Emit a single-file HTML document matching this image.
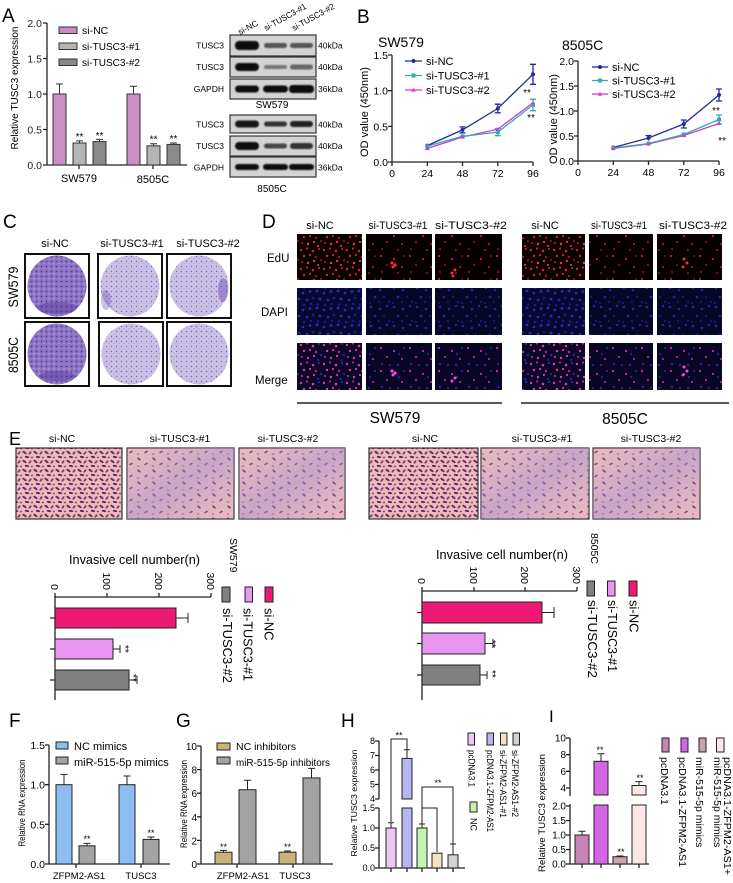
<!DOCTYPE html>
<html><head><meta charset="utf-8"><style>
html,body{margin:0;padding:0;background:#fff;}
svg{display:block;font-family:"Liberation Sans",Arial,sans-serif;}
</style></head><body>
<svg width="733" height="883" viewBox="0 0 733 883" xmlns="http://www.w3.org/2000/svg">
<defs>
<filter id="bl" x="-30%" y="-80%" width="160%" height="260%"><feGaussianBlur stdDeviation="0.9"/></filter>
<pattern id="eduA" width="23" height="19" patternUnits="userSpaceOnUse"><rect width="23" height="19" fill="#0a0101"/>
<g fill="#d82222"><circle cx="2" cy="3" r="1.2"/><circle cx="8" cy="1.5" r="1.1"/><circle cx="14" cy="4" r="1.3"/><circle cx="20" cy="2" r="1"/><circle cx="5" cy="9" r="1.2"/><circle cx="11" cy="8" r="1.1"/></g>
<g fill="#a81616"><circle cx="17" cy="10" r="1.2"/><circle cx="22" cy="13" r="1"/><circle cx="3" cy="15" r="1.1"/></g>
<g fill="#ff3a3a"><circle cx="9" cy="16" r="1.2"/><circle cx="15" cy="14" r="1.1"/><circle cx="19" cy="18" r="1"/></g></pattern>
<pattern id="eduB" width="29" height="23" patternUnits="userSpaceOnUse"><rect width="29" height="23" fill="#070000"/>
<g fill="#d02020"><circle cx="4" cy="3" r="1.1"/><circle cx="17" cy="6" r="1.1"/><circle cx="25" cy="14" r="1"/></g>
<g fill="#a01414"><circle cx="10" cy="12" r="1"/><circle cx="21" cy="20" r="1"/><circle cx="5" cy="19" r="1"/><circle cx="27" cy="3" r="0.9"/></g></pattern>
<pattern id="dapi" width="21" height="17" patternUnits="userSpaceOnUse"><rect width="21" height="17" fill="#080830"/>
<g fill="#2a2ab8"><circle cx="2" cy="2" r="1.4"/><circle cx="9" cy="4" r="1.3"/><circle cx="16" cy="2.5" r="1.4"/><circle cx="5" cy="10" r="1.4"/><circle cx="13" cy="11" r="1.3"/></g>
<g fill="#1c1c8c"><circle cx="19" cy="9" r="1.3"/><circle cx="3" cy="15.5" r="1.2"/><circle cx="10" cy="16" r="1.3"/><circle cx="17" cy="15" r="1.2"/></g></pattern>
<pattern id="dapiB" width="23" height="19" patternUnits="userSpaceOnUse"><rect width="23" height="19" fill="#070728"/>
<g fill="#2424a6"><circle cx="3" cy="3" r="1.3"/><circle cx="12" cy="5" r="1.3"/><circle cx="19" cy="2" r="1.2"/><circle cx="7" cy="12" r="1.3"/></g>
<g fill="#18187c"><circle cx="16" cy="12" r="1.2"/><circle cx="21" cy="17" r="1.2"/><circle cx="2" cy="18" r="1.1"/><circle cx="11" cy="17" r="1.2"/></g></pattern>
<pattern id="mrgA" width="23" height="19" patternUnits="userSpaceOnUse"><rect width="23" height="19" fill="#0c0628"/>
<g fill="#e03aae"><circle cx="2" cy="3" r="1.2"/><circle cx="14" cy="4" r="1.3"/><circle cx="5" cy="9" r="1.2"/><circle cx="11" cy="8" r="1.1"/><circle cx="9" cy="16" r="1.2"/><circle cx="15" cy="14" r="1.1"/></g>
<g fill="#b02a8c"><circle cx="8" cy="1.5" r="1.1"/><circle cx="17" cy="10" r="1.2"/><circle cx="3" cy="15" r="1.1"/></g>
<g fill="#2828a8"><circle cx="20" cy="2" r="1.2"/><circle cx="22" cy="13" r="1.2"/><circle cx="19" cy="18" r="1.1"/></g></pattern>
<pattern id="mrgB" width="29" height="23" patternUnits="userSpaceOnUse"><rect width="29" height="23" fill="#0a0626"/>
<g fill="#c8309c"><circle cx="4" cy="3" r="1.1"/><circle cx="17" cy="6" r="1.1"/><circle cx="25" cy="14" r="1"/><circle cx="10" cy="12" r="1"/></g>
<g fill="#2424a0"><circle cx="21" cy="20" r="1.2"/><circle cx="5" cy="19" r="1.2"/><circle cx="27" cy="3" r="1.1"/><circle cx="13" cy="20" r="1.1"/><circle cx="22" cy="9" r="1.1"/></g></pattern>
<pattern id="colD" width="5" height="5" patternUnits="userSpaceOnUse"><rect width="5" height="5" fill="#8c76c4"/><circle cx="1.5" cy="1.5" r="0.9" fill="#57389a"/><circle cx="4" cy="3.7" r="0.7" fill="#b4a4da"/></pattern>
<pattern id="colL" width="5" height="5" patternUnits="userSpaceOnUse"><rect width="5" height="5" fill="#cbc1e5"/><circle cx="1.5" cy="1.5" r="0.7" fill="#7c62b6"/><circle cx="4" cy="3.8" r="0.5" fill="#9a86c8"/></pattern>
<pattern id="invA" width="11" height="9" patternUnits="userSpaceOnUse"><rect width="11" height="9" fill="#eebbb5"/><ellipse cx="2.5" cy="2.5" rx="2.4" ry="1.1" transform="rotate(35 2.5 2.5)" fill="#6b2a7a"/><ellipse cx="8" cy="3" rx="2" ry="1" transform="rotate(-50 8 3)" fill="#7c3a8a"/><ellipse cx="5" cy="7" rx="2.2" ry="1" transform="rotate(10 5 7)" fill="#5f2470"/><ellipse cx="10" cy="7.5" rx="1.3" ry="0.9" fill="#8a4796"/></pattern>
<pattern id="invB" width="15" height="12" patternUnits="userSpaceOnUse"><rect width="15" height="12" fill="#efc0ba"/><ellipse cx="4" cy="3" rx="2.2" ry="1" transform="rotate(40 4 3)" fill="#6e2c7c"/><ellipse cx="11" cy="8" rx="2" ry="0.9" transform="rotate(-30 11 8)" fill="#7a3888"/><ellipse cx="3" cy="10" rx="1.4" ry="0.8" fill="#a868a8"/></pattern>
<linearGradient id="lav" x1="0" y1="0" x2="1" y2="1"><stop offset="0" stop-color="#b598d0" stop-opacity="0.1"/><stop offset="0.5" stop-color="#a890d0" stop-opacity="0.55"/><stop offset="1" stop-color="#b598d0" stop-opacity="0.1"/></linearGradient>
</defs>

<!-- ============ A chart ============ -->
<text x="2" y="22" font-size="19">A</text>
<path d="M47 23V165H187M43 23H47M43 58.5H47M43 94H47M43 129.5H47M43 165H47M79 165V169M153 165V169" stroke="#222" stroke-width="1.3" fill="none"/>
<g font-size="10.5" text-anchor="end" fill="#222"><text x="42" y="27">2.0</text><text x="42" y="62.5">1.5</text><text x="42" y="98">1.0</text><text x="42" y="133.5">0.5</text><text x="42" y="169">0.0</text></g>
<text transform="translate(18,88) rotate(-90)" text-anchor="middle" font-size="10" textLength="123" lengthAdjust="spacingAndGlyphs">Relative TUSC3 expression</text>
<g stroke="#333" stroke-width="1">
<rect x="53" y="94" width="13" height="71" fill="#c98fc4"/>
<rect x="73" y="143" width="13" height="22" fill="#b5b5b5"/>
<rect x="93" y="141.6" width="13" height="23.4" fill="#8a8a8a"/>
<rect x="127" y="94" width="13" height="71" fill="#c98fc4"/>
<rect x="147" y="145.8" width="13" height="19.2" fill="#b5b5b5"/>
<rect x="167" y="144.4" width="13" height="20.6" fill="#8a8a8a"/>
<path d="M59.5 94V84M56 84H63M79.5 143V140.9M76 140.9H83M99.5 141.6V139.4M96 139.4H103M133.5 94V86.2M130 86.2H137M153.5 145.8V143.7M150 143.7H157M173.5 144.4V143M170 143H177" fill="none"/>
</g>
<g font-size="10" text-anchor="middle"><text x="79.5" y="140">**</text><text x="99.5" y="139">**</text><text x="153.5" y="142.5">**</text><text x="173.5" y="142">**</text></g>
<g font-size="11" text-anchor="middle"><text x="79" y="182">SW579</text><text x="153" y="183">8505C</text></g>
<g stroke="#333" stroke-width="1"><rect x="59" y="27" width="18" height="6.5" fill="#c98fc4"/><rect x="59" y="43" width="18" height="6.5" fill="#b5b5b5"/><rect x="59" y="59" width="18" height="6.5" fill="#8a8a8a"/></g>
<g font-size="10.5"><text x="82" y="34">si-NC</text><text x="82" y="50" textLength="58" lengthAdjust="spacingAndGlyphs">si-TUSC3-#1</text><text x="82" y="66" textLength="58" lengthAdjust="spacingAndGlyphs">si-TUSC3-#2</text></g>

<!-- ============ Western blots ============ -->
<g font-size="8.5"><text transform="translate(240,35) rotate(-28)">si-NC</text><text transform="translate(266,31) rotate(-29)" textLength="47" lengthAdjust="spacingAndGlyphs">si-TUSC3-#1</text><text transform="translate(294,31) rotate(-29)" textLength="47" lengthAdjust="spacingAndGlyphs">si-TUSC3-#2</text></g>
<g fill="#d3d3d3" stroke="#333" stroke-width="1.2">
<rect x="230" y="35" width="86" height="21"/><rect x="230" y="57" width="86" height="20"/><rect x="230" y="79" width="86" height="20"/>
<rect x="230" y="115" width="86" height="18"/><rect x="230" y="136" width="86" height="20"/><rect x="230" y="157" width="86" height="20"/>
</g>
<g filter="url(#bl)">
<rect x="235" y="41" width="24" height="9" rx="4" fill="#111"/><rect x="264" y="43" width="23" height="5" rx="2.5" fill="#555"/><rect x="290" y="43" width="23" height="5" rx="2.5" fill="#555"/>
<rect x="235" y="63" width="24" height="8" rx="4" fill="#111"/><rect x="264" y="65" width="23" height="4" rx="2" fill="#777"/><rect x="290" y="64.5" width="23" height="5" rx="2.5" fill="#666"/>
<rect x="235" y="85.5" width="24" height="7" rx="3.5" fill="#111"/><rect x="263" y="85.5" width="25" height="7" rx="3.5" fill="#111"/><rect x="289" y="85" width="25" height="8" rx="3.5" fill="#111"/>
<rect x="235" y="120.5" width="24" height="7" rx="3.5" fill="#151515"/><rect x="264" y="121.5" width="23" height="5" rx="2.5" fill="#333"/><rect x="290" y="121" width="23" height="6" rx="3" fill="#222"/>
<rect x="235" y="142" width="24" height="8" rx="4" fill="#111"/><rect x="264" y="143.5" width="23" height="5" rx="2.5" fill="#444"/><rect x="290" y="143" width="23" height="6" rx="3" fill="#333"/>
<rect x="235" y="164" width="24" height="6" rx="3" fill="#111"/><rect x="263" y="164" width="25" height="6" rx="3" fill="#111"/><rect x="289" y="164" width="25" height="6" rx="3" fill="#111"/>
</g>
<g font-size="8.5" text-anchor="end"><text x="224" y="48.5">TUSC3</text><text x="224" y="70">TUSC3</text><text x="224" y="92">GAPDH</text><text x="224" y="127.5">TUSC3</text><text x="224" y="149">TUSC3</text><text x="224" y="170.5">GAPDH</text></g>
<g font-size="8.5"><text x="318" y="48.5">40kDa</text><text x="318" y="70">40kDa</text><text x="318" y="92">36kDa</text><text x="318" y="127.5">40kDa</text><text x="318" y="149">40kDa</text><text x="318" y="170.5">36kDa</text></g>
<g font-size="10" text-anchor="middle"><text x="272" y="108">SW579</text><text x="272" y="192">8505C</text></g>

<!-- ============ B charts ============ -->
<text x="357" y="23" font-size="19">B</text>
<text x="378" y="47" font-size="14">SW579</text>
<text x="562" y="50" font-size="14">8505C</text>
<text transform="translate(368,112) rotate(-90)" text-anchor="middle" font-size="11">OD value (450nm)</text>
<text transform="translate(557,119) rotate(-90)" text-anchor="middle" font-size="11">OD value (450nm)</text>
<path d="M392 55V162H533M388 55H392M388 90.7H392M388 126.4H392M388 162H392M392 162V166M427.3 162V166M462.5 162V166M497.8 162V166M533 162V166" stroke="#222" stroke-width="1.3" fill="none"/>
<path d="M578 61V161H719M574 61H578M574 86H578M574 111H578M574 136H578M574 161H578M578 161V165M613.3 161V165M648.5 161V165M683.8 161V165M719 161V165" stroke="#222" stroke-width="1.3" fill="none"/>
<g font-size="10.5" text-anchor="end"><text x="388" y="59">1.5</text><text x="388" y="94.7">1.0</text><text x="388" y="130.4">0.5</text><text x="388" y="166">0.0</text>
<text x="574" y="65">2.0</text><text x="574" y="90">1.5</text><text x="574" y="115">1.0</text><text x="574" y="140">0.5</text><text x="574" y="165">0.0</text></g>
<g font-size="10.5" text-anchor="middle"><text x="392" y="177">0</text><text x="427.3" y="177">24</text><text x="462.5" y="177">48</text><text x="497.8" y="177">72</text><text x="533" y="177">96</text>
<text x="578" y="176">0</text><text x="613.3" y="176">24</text><text x="648.5" y="176">48</text><text x="683.8" y="176">72</text><text x="719" y="176">96</text></g>
<g fill="none" stroke-width="1.3">
<polyline points="427.3,148.5 462.5,137 497.8,129.2 533,102.8" stroke="#d03cd0"/>
<polyline points="427.3,146.3 462.5,136.3 497.8,132.1 533,105" stroke="#35aab0"/>
<polyline points="427.3,145.6 462.5,129.9 497.8,108.5 533,74.3" stroke="#232a9e"/>
<path d="M462.5 126.9V132.9M459.5 126.9H465.5M459.5 132.9H465.5M497.8 104.2V112.8M494.8 104.2H500.8M494.8 112.8H500.8M533 64.3V84.3M530 64.3H536M530 84.3H536" stroke="#232a9e"/>
<path d="M533 99.3V110.7M530 99.3H536M530 110.7H536M497.8 128.5V135.7M494.8 128.5H500.8M494.8 135.7H500.8" stroke="#35aab0"/>
<polyline points="613.3,148.5 648.5,144 683.8,135.5 719,123.5" stroke="#d03cd0"/>
<polyline points="613.3,148 648.5,143.5 683.8,134.5 719,119.5" stroke="#35aab0"/>
<polyline points="613.3,147.5 648.5,138 683.8,124 719,95" stroke="#232a9e"/>
<path d="M648.5 135.5V140.5M645.5 135.5H651.5M683.8 120V128M680.8 120H686.8M680.8 128H686.8M719 89V101M716 89H722M716 101H722" stroke="#232a9e"/>
<path d="M719 115V124M716 115H722M716 124H722" stroke="#35aab0"/>
</g>
<g fill="#232a9e"><circle cx="427.3" cy="145.6" r="2"/><circle cx="462.5" cy="129.9" r="2"/><circle cx="497.8" cy="108.5" r="2"/><circle cx="533" cy="74.3" r="2"/>
<circle cx="613.3" cy="147.5" r="2"/><circle cx="648.5" cy="138" r="2"/><circle cx="683.8" cy="124" r="2"/><circle cx="719" cy="95" r="2"/></g>
<g fill="#35aab0"><rect x="425.3" y="144.3" width="4" height="4"/><rect x="460.5" y="134.3" width="4" height="4"/><rect x="495.8" y="130.1" width="4" height="4"/><rect x="531" y="103" width="4" height="4"/>
<rect x="611.3" y="146" width="4" height="4"/><rect x="646.5" y="141.5" width="4" height="4"/><rect x="681.8" y="132.5" width="4" height="4"/><rect x="717" y="117.5" width="4" height="4"/></g>
<g fill="#d03cd0"><path d="M427.3 146.3l2.3 3.8h-4.6zM462.5 134.8l2.3 3.8h-4.6zM497.8 127l2.3 3.8h-4.6zM533 100.6l2.3 3.8h-4.6zM613.3 146.3l2.3 3.8h-4.6zM648.5 141.8l2.3 3.8h-4.6zM683.8 133.3l2.3 3.8h-4.6zM719 121.3l2.3 3.8h-4.6z"/></g>
<g font-size="10" text-anchor="middle"><text x="527" y="96">**</text><text x="531" y="121">**</text><text x="716" y="114">**</text><text x="722" y="144">**</text></g>
<g stroke-width="1.3"><line x1="405" y1="61" x2="422" y2="61" stroke="#232a9e"/><line x1="405" y1="75.5" x2="422" y2="75.5" stroke="#35aab0"/><line x1="405" y1="90" x2="422" y2="90" stroke="#d03cd0"/>
<line x1="592" y1="67" x2="608" y2="67" stroke="#232a9e"/><line x1="592" y1="80.5" x2="608" y2="80.5" stroke="#35aab0"/><line x1="592" y1="94" x2="608" y2="94" stroke="#d03cd0"/></g>
<circle cx="413.5" cy="61" r="2" fill="#232a9e"/><rect x="411.5" y="73.5" width="4" height="4" fill="#35aab0"/><path d="M413.5 87.8l2.3 3.8h-4.6z" fill="#d03cd0"/>
<circle cx="600" cy="67" r="2" fill="#232a9e"/><rect x="598" y="78.5" width="4" height="4" fill="#35aab0"/><path d="M600 91.8l2.3 3.8h-4.6z" fill="#d03cd0"/>
<g font-size="11"><text x="426" y="65">si-NC</text><text x="426" y="79.5">si-TUSC3-#1</text><text x="426" y="94">si-TUSC3-#2</text>
<text x="612" y="71">si-NC</text><text x="612" y="84.5">si-TUSC3-#1</text><text x="612" y="98">si-TUSC3-#2</text></g>

<!-- ============ C ============ -->
<text x="3" y="228" font-size="19">C</text>
<g font-size="11" text-anchor="middle"><text x="55" y="247">si-NC</text><text x="132" y="247">si-TUSC3-#1</text><text x="208" y="247">si-TUSC3-#2</text></g>
<text transform="translate(18,287) rotate(-90)" text-anchor="middle" font-size="14" textLength="41" lengthAdjust="spacingAndGlyphs">SW579</text>
<text transform="translate(18,355) rotate(-90)" text-anchor="middle" font-size="14" textLength="36" lengthAdjust="spacingAndGlyphs">8505C</text>
<g fill="#fff" stroke="#111" stroke-width="2">
<rect x="25" y="254" width="64" height="64"/><rect x="98" y="254" width="64" height="64"/><rect x="167" y="254" width="64" height="64"/>
<rect x="25" y="322" width="64" height="64"/><rect x="99" y="322" width="64" height="64"/><rect x="167" y="322" width="64" height="64"/>
</g>
<ellipse cx="57" cy="286" rx="29.5" ry="30.5" fill="url(#colD)"/>
<ellipse cx="130" cy="286" rx="29.5" ry="30.5" fill="url(#colL)"/>
<ellipse cx="199" cy="286" rx="29.5" ry="30.5" fill="url(#colL)"/>
<ellipse cx="57" cy="354" rx="29.5" ry="30.5" fill="url(#colD)"/>
<ellipse cx="131" cy="354" rx="29.5" ry="30.5" fill="url(#colL)"/>
<ellipse cx="199" cy="354" rx="29.5" ry="30.5" fill="url(#colL)"/>
<ellipse cx="57" cy="308" rx="20" ry="6" fill="#5a3a9a" opacity="0.5"/>
<ellipse cx="57" cy="376" rx="18" ry="5" fill="#5a3a9a" opacity="0.5"/>
<ellipse cx="223" cy="290" rx="5" ry="12" fill="#6a4aa8" opacity="0.45"/>
<ellipse cx="106" cy="300" rx="5" ry="10" fill="#6a4aa8" opacity="0.35"/>

<!-- ============ D ============ -->
<text x="262" y="228" font-size="19">D</text>
<g font-size="11" text-anchor="middle"><text x="320" y="229">si-NC</text><text x="398" y="229" textLength="59" lengthAdjust="spacingAndGlyphs">si-TUSC3-#1</text><text x="471" y="229" textLength="72" lengthAdjust="spacingAndGlyphs">si-TUSC3-#2</text>
<text x="545" y="229">si-NC</text><text x="619" y="229" textLength="56" lengthAdjust="spacingAndGlyphs">si-TUSC3-#1</text><text x="693" y="229" textLength="68" lengthAdjust="spacingAndGlyphs">si-TUSC3-#2</text></g>
<g font-size="11.5"><text x="267" y="262">EdU</text><text x="261" y="316">DAPI</text><text x="255" y="384">Merge</text></g>
<g>
<rect x="297" y="234" width="65" height="46" fill="url(#eduA)"/><rect x="366" y="234" width="66" height="46" fill="url(#eduB)"/><rect x="435" y="234" width="67" height="46" fill="url(#eduB)"/>
<rect x="522" y="234" width="63" height="46" fill="url(#eduA)"/><rect x="589" y="234" width="64" height="46" fill="url(#eduB)"/><rect x="657" y="234" width="65" height="46" fill="url(#eduB)"/>
<rect x="297" y="288" width="65" height="47" fill="url(#dapi)"/><rect x="366" y="288" width="66" height="47" fill="url(#dapiB)"/><rect x="435" y="288" width="67" height="47" fill="url(#dapiB)"/>
<rect x="522" y="288" width="63" height="47" fill="url(#dapi)"/><rect x="589" y="288" width="64" height="47" fill="url(#dapiB)"/><rect x="657" y="288" width="65" height="47" fill="url(#dapiB)"/>
<rect x="297" y="343" width="65" height="47" fill="url(#mrgA)"/><rect x="366" y="343" width="66" height="47" fill="url(#mrgB)"/><rect x="435" y="343" width="67" height="47" fill="url(#mrgB)"/>
<rect x="522" y="343" width="63" height="47" fill="url(#mrgA)"/><rect x="589" y="343" width="64" height="47" fill="url(#mrgB)"/><rect x="657" y="343" width="65" height="47" fill="url(#mrgB)"/>
</g>
<g fill="#ff3030"><circle cx="392" cy="263" r="1.6"/><circle cx="395" cy="265" r="1.6"/><circle cx="393" cy="267" r="1.5"/><circle cx="452" cy="273" r="1.5"/><circle cx="455" cy="270" r="1.5"/><circle cx="453" cy="276" r="1.4"/><circle cx="684" cy="259" r="1.5"/><circle cx="687" cy="263" r="1.5"/><circle cx="683" cy="267" r="1.4"/></g>
<g fill="#ff4ad0"><circle cx="392" cy="371" r="1.6"/><circle cx="395" cy="373" r="1.6"/><circle cx="393" cy="375" r="1.5"/><circle cx="452" cy="381" r="1.5"/><circle cx="455" cy="378" r="1.5"/><circle cx="684" cy="367" r="1.5"/><circle cx="687" cy="371" r="1.5"/><circle cx="683" cy="375" r="1.4"/></g>
<g stroke="#222" stroke-width="1.5"><line x1="297" y1="403" x2="502" y2="403"/><line x1="521" y1="403" x2="729" y2="403"/></g>
<g font-size="15.5" text-anchor="middle"><text x="395" y="423">SW579</text><text x="625" y="424">8505C</text></g>

<!-- ============ E images ============ -->
<text x="9" y="445" font-size="18">E</text>
<g font-size="10.5" text-anchor="middle"><text x="62" y="442">si-NC</text><text x="180" y="442">si-TUSC3-#1</text><text x="288" y="442">si-TUSC3-#2</text>
<text x="425" y="442">si-NC</text><text x="542" y="442">si-TUSC3-#1</text><text x="651" y="442">si-TUSC3-#2</text></g>
<g stroke="#333" stroke-width="1.2">
<rect x="16" y="448" width="106" height="71" fill="url(#invA)"/><rect x="127" y="448" width="107" height="71" fill="url(#invB)"/><rect x="239" y="448" width="106" height="71" fill="url(#invB)"/>
<rect x="369" y="448" width="109" height="71" fill="url(#invA)"/><rect x="481" y="448" width="108" height="71" fill="url(#invB)"/><rect x="593" y="448" width="107" height="71" fill="url(#invB)"/>
</g>
<g fill="url(#lav)"><rect x="127" y="448" width="107" height="71"/><rect x="239" y="448" width="106" height="71"/><rect x="481" y="448" width="108" height="71"/><rect x="593" y="448" width="107" height="71"/></g>

<!-- ============ E bar charts ============ -->
<text x="69" y="564" font-size="12.5" textLength="131" lengthAdjust="spacingAndGlyphs">Invasive cell number(n)</text>
<text x="436" y="559" font-size="12.5" textLength="132" lengthAdjust="spacingAndGlyphs">Invasive cell number(n)</text>
<path d="M55 597H211M55 593V597M107 593V597M159 593V597M211 593V597M55 597V700M50 618H55M50 649H55M50 680H55" stroke="#222" stroke-width="1.3" fill="none"/>
<path d="M422 591H577M422 587V591M474 587V591M525 587V591M577 587V591M422 591V700M417 612.5H422M417 643.5H422M417 675H422" stroke="#222" stroke-width="1.3" fill="none"/>
<g font-size="10.5" text-anchor="end">
<text transform="translate(51,590) rotate(90)">0</text><text transform="translate(103,590) rotate(90)">100</text><text transform="translate(155,590) rotate(90)">200</text><text transform="translate(207,590) rotate(90)">300</text>
<text transform="translate(418,584) rotate(90)">0</text><text transform="translate(470,584) rotate(90)">100</text><text transform="translate(521,584) rotate(90)">200</text><text transform="translate(573,584) rotate(90)">300</text>
</g>
<g stroke="#222" stroke-width="1">
<rect x="55" y="608" width="121" height="20" fill="#ec1a72"/><rect x="55" y="639" width="58" height="20" fill="#e896f0"/><rect x="55" y="670" width="74" height="20" fill="#808080"/>
<path d="M176 618H188M188 613V623M113 649H120M120 645V653M129 680H137M137 676V684" fill="none"/>
<rect x="422" y="602" width="120" height="21" fill="#ec1a72"/><rect x="422" y="633" width="63" height="21" fill="#e896f0"/><rect x="422" y="665" width="58" height="20" fill="#808080"/>
<path d="M542 612.5H554M554 607V618M485 643.5H493M493 639V648M480 675H487M487 671V679" fill="none"/>
<rect x="222" y="587" width="8" height="15" fill="#808080"/><rect x="245" y="587" width="7.5" height="15" fill="#e896f0"/><rect x="265" y="587" width="8" height="15" fill="#ec1a72"/>
<rect x="587" y="581" width="7.5" height="15" fill="#808080"/><rect x="607.5" y="581" width="7.5" height="15" fill="#e896f0"/><rect x="629" y="581" width="8" height="15" fill="#ec1a72"/>
</g>
<g font-size="10"><text transform="translate(122,645) rotate(90)">**</text><text transform="translate(130,674) rotate(90)">**</text><text transform="translate(489,640) rotate(90)">**</text><text transform="translate(489,670) rotate(90)">**</text></g>
<g font-size="13">
<text transform="translate(223,608) rotate(90)" textLength="75" lengthAdjust="spacingAndGlyphs">si-TUSC3-#2</text>
<text transform="translate(243.5,608) rotate(90)" textLength="73" lengthAdjust="spacingAndGlyphs">si-TUSC3-#1</text>
<text transform="translate(264.5,608) rotate(90)">si-NC</text>
<text transform="translate(588,600) rotate(90)" textLength="78" lengthAdjust="spacingAndGlyphs">si-TUSC3-#2</text>
<text transform="translate(608,600) rotate(90)" textLength="72" lengthAdjust="spacingAndGlyphs">si-TUSC3-#1</text>
<text transform="translate(629.5,600) rotate(90)">si-NC</text>
</g>
<g font-size="10.5"><text transform="translate(230,538) rotate(90)">SW579</text><text transform="translate(591,533) rotate(90)">8505C</text></g>

<!-- ============ F ============ -->
<text x="9" y="727" font-size="19">F</text>
<path d="M49 745V864H170M45 745H49M45 784.7H49M45 824.3H49M45 864H49M76 864V868M141 864V868" stroke="#222" stroke-width="1.3" fill="none"/>
<g font-size="10.5" text-anchor="end"><text x="45" y="749">1.5</text><text x="45" y="788.7">1.0</text><text x="45" y="828.3">0.5</text><text x="45" y="868">0.0</text></g>
<text transform="translate(25,803) rotate(-90)" text-anchor="middle" font-size="9" textLength="87" lengthAdjust="spacingAndGlyphs">Relative RNA expression</text>
<g stroke="#222" stroke-width="1">
<rect x="56" y="784.7" width="16" height="79.3" fill="#8cbcf0"/><rect x="79" y="845.8" width="16" height="18.2" fill="#a3a3a3"/>
<rect x="119" y="784.7" width="16" height="79.3" fill="#8cbcf0"/><rect x="143" y="839.4" width="16" height="24.6" fill="#a3a3a3"/>
<path d="M64 784.7V774.4M60.5 774.4H67.5M87 845.8V843.4M83.5 843.4H90.5M127 784.7V776M123.5 776H130.5M151 839.4V837M147.5 837H154.5" fill="none"/>
<rect x="56" y="742" width="12" height="7" fill="#8cbcf0"/><rect x="56" y="757" width="12" height="7" fill="#a3a3a3"/>
</g>
<g font-size="9" text-anchor="middle"><text x="87" y="842">**</text><text x="151" y="836">**</text></g>
<g font-size="9.5" text-anchor="middle"><text x="79" y="879">ZFPM2-AS1</text><text x="141" y="879">TUSC3</text></g>
<g font-size="11"><text x="74" y="750">NC mimics</text><text x="74" y="766">miR-515-5p mimics</text></g>

<!-- ============ G ============ -->
<text x="176" y="727" font-size="19">G</text>
<path d="M201 746V864H333M197 746H201M197 769.6H201M197 793.2H201M197 816.8H201M197 840.4H201M197 864H201M237 864V868M293 864V868" stroke="#222" stroke-width="1.3" fill="none"/>
<g font-size="10" text-anchor="end"><text x="197" y="750">10</text><text x="197" y="773.6">8</text><text x="197" y="797.2">6</text><text x="197" y="820.8">4</text><text x="197" y="844.4">2</text><text x="197" y="868">0</text></g>
<text transform="translate(187,804) rotate(-90)" text-anchor="middle" font-size="9" textLength="88" lengthAdjust="spacingAndGlyphs">Relative RNA expression</text>
<g stroke="#222" stroke-width="1">
<rect x="215" y="852.2" width="17" height="11.8" fill="#c8b47a"/><rect x="239" y="789.7" width="17" height="74.3" fill="#a3a3a3"/>
<rect x="279" y="852.2" width="17" height="11.8" fill="#c8b47a"/><rect x="303" y="777.9" width="17" height="86.1" fill="#a3a3a3"/>
<path d="M223.5 852.2V850.4M220 850.4H227M247.5 789.7V780.2M244 780.2H251M287.5 852.2V851M284 851H291M311.5 777.9V768.4M308 768.4H315" fill="none"/>
<rect x="217" y="743" width="13" height="7" fill="#c8b47a"/><rect x="217" y="757" width="13" height="7" fill="#a3a3a3"/>
</g>
<g font-size="9" text-anchor="middle"><text x="223.5" y="850">**</text><text x="287.5" y="850">**</text></g>
<g font-size="9.5" text-anchor="middle"><text x="243" y="879">ZFPM2-AS1</text><text x="295" y="879">TUSC3</text></g>
<g font-size="10.5"><text x="236" y="750">NC inhibitors</text><text x="236" y="766" textLength="94" lengthAdjust="spacingAndGlyphs">miR-515-5p inhibitors</text></g>

<!-- ============ H ============ -->
<text x="341" y="727" font-size="19">H</text>
<path d="M379 741V799M379 808V868H465M375 741H379M375 755.5H379M375 770H379M375 784.5H379M375 799H379M375 808H379M375 828H379M375 848H379M375 868H379M391 868V872M407 868V872M422 868V872M437 868V872M453 868V872" stroke="#222" stroke-width="1.3" fill="none"/>
<g font-size="9" text-anchor="end"><text x="375" y="744">8</text><text x="375" y="758.5">7</text><text x="375" y="773">6</text><text x="375" y="787.5">5</text><text x="375" y="802">4</text><text x="375" y="811">1.5</text><text x="375" y="831">1.0</text><text x="375" y="851">0.5</text><text x="375" y="871">0.0</text></g>
<text transform="translate(357,803) rotate(-90)" text-anchor="middle" font-size="8.7" textLength="107" lengthAdjust="spacingAndGlyphs">Relative TUSC3 expression</text>
<g stroke="#222" stroke-width="1">
<rect x="386" y="828" width="10" height="40" fill="#eec6f4"/>
<rect x="402" y="808" width="10" height="60" fill="#b6b6f2"/><rect x="402" y="758.4" width="10" height="40.6" fill="#b6b6f2"/>
<rect x="417" y="828" width="10" height="40" fill="#c4f2b4"/>
<rect x="432" y="853.2" width="10" height="14.8" fill="#f2e2c0"/>
<rect x="448" y="854.8" width="10" height="13.2" fill="#d2d2d2"/>
<path d="M391 828V822.8M388 822.8H394M407 758.4V749.7M404 749.7H410M422 828V824M419 824H425M453 854.8V844M450 844H456" fill="none"/>
<path d="M391 822V739H407V749.7M422 824V787H453V844M422 808H437V852" fill="none"/>
<rect x="468" y="733" width="6.5" height="12" fill="#eec6f4"/><rect x="487" y="733" width="6.5" height="12" fill="#b6b6f2"/><rect x="500.5" y="733" width="6.5" height="12" fill="#f2e2c0"/><rect x="513" y="733" width="6.5" height="12" fill="#d2d2d2"/>
<rect x="470" y="802" width="7" height="10" fill="#c4f2b4"/>
</g>
<g font-size="9" text-anchor="middle"><text x="399" y="738.5">**</text><text x="438" y="786">**</text></g>
<g font-size="9">
<text transform="translate(468.5,750) rotate(90)" textLength="37" lengthAdjust="spacingAndGlyphs">pcDNA3.1</text>
<text transform="translate(470.5,818) rotate(90)">NC</text>
<text transform="translate(487,750) rotate(90)" textLength="82" lengthAdjust="spacingAndGlyphs">pcDNA3.1-ZFPM2-AS1</text>
<text transform="translate(500,750) rotate(90)" textLength="68" lengthAdjust="spacingAndGlyphs">si-ZFPM2-AS1-#1</text>
<text transform="translate(512,750) rotate(90)" textLength="67" lengthAdjust="spacingAndGlyphs">si-ZFPM2-AS1-#2</text>
</g>

<!-- ============ I ============ -->
<text x="549" y="722" font-size="17">I</text>
<path d="M570 738V796M570 804V864H649M566 738H570M566 754.7H570M566 771.3H570M566 788H570M566 806H570M566 820.5H570M566 835H570M566 849.5H570M566 864H570M582 864V868M601 864V868M620 864V868M639 864V868" stroke="#222" stroke-width="1.3" fill="none"/>
<g font-size="10" text-anchor="end"><text x="566" y="741.5">10</text><text x="566" y="758.2">8</text><text x="566" y="774.8">6</text><text x="566" y="791.5">4</text><text x="566" y="809.5">2.0</text><text x="566" y="824">1.5</text><text x="566" y="838.5">1.0</text><text x="566" y="853">0.5</text><text x="566" y="867.5">0.0</text></g>
<text transform="translate(545,813) rotate(-90)" text-anchor="middle" font-size="9.5" textLength="118" lengthAdjust="spacingAndGlyphs">Relative TUSC3 expression</text>
<g stroke="#222" stroke-width="1">
<rect x="575" y="835" width="14" height="29" fill="#c685b6"/>
<rect x="594" y="805" width="14" height="59" fill="#d466e6"/><rect x="594" y="761.3" width="14" height="33.7" fill="#d466e6"/>
<rect x="613" y="856.75" width="14" height="7.25" fill="#caa2aa"/>
<rect x="632" y="805" width="14" height="59" fill="#fde6e6"/><rect x="632" y="785.5" width="14" height="9.5" fill="#fde6e6"/>
<path d="M582 835V831.2M578.5 831.2H585.5M601 761.3V753.8M597.5 753.8H604.5M620 856.75V856M616.5 856H623.5M639 785.5V781.6M635.5 781.6H642.5" fill="none"/>
<rect x="662" y="738" width="7" height="14" fill="#c685b6"/><rect x="681" y="738" width="7" height="14" fill="#d466e6"/><rect x="699" y="738" width="7" height="14" fill="#caa2aa"/><rect x="716.5" y="738" width="7.5" height="14" fill="#fde6e6"/>
</g>
<g font-size="9" text-anchor="middle"><text x="600" y="753">**</text><text x="621" y="855">**</text><text x="640" y="781">**</text></g>
<g font-size="10.5">
<text transform="translate(661,757) rotate(90)">pcDNA3.1</text>
<text transform="translate(679,757) rotate(90)" textLength="110" lengthAdjust="spacingAndGlyphs">pcDNA3.1-ZFPM2-AS1</text>
<text transform="translate(696,757) rotate(90)">miR-515-5p mimics</text>
<text transform="translate(724,757) rotate(90)" textLength="118" lengthAdjust="spacingAndGlyphs">pcDNA3.1-ZFPM2-AS1+</text>
<text transform="translate(714,757) rotate(90)">miR-515-5p mimics</text>
</g>
</svg>
</body></html>
